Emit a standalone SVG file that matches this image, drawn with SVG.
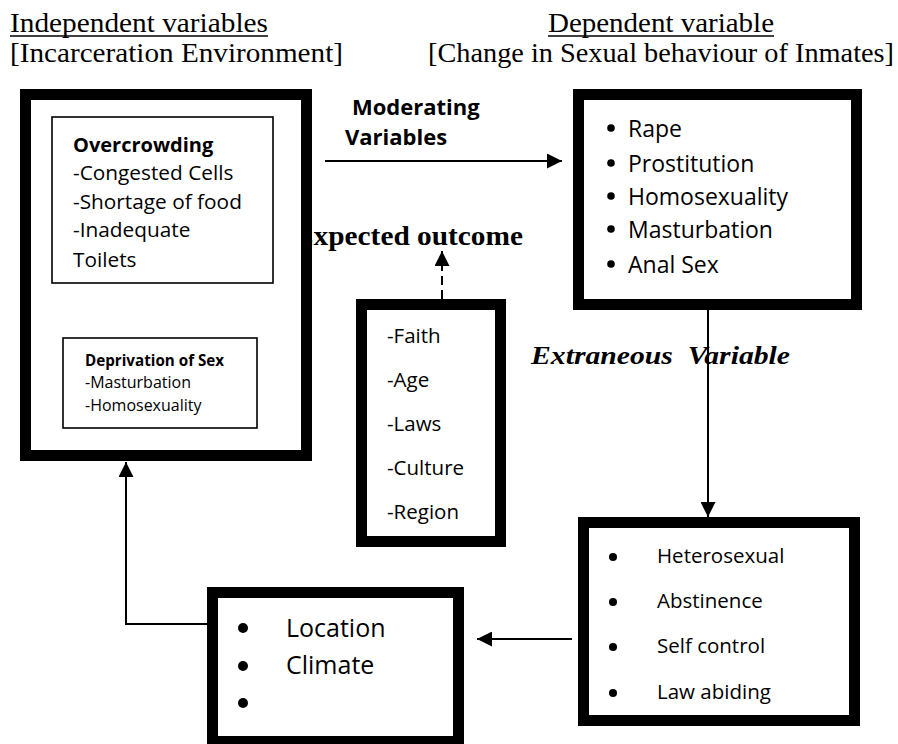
<svg xmlns="http://www.w3.org/2000/svg" width="898" height="744" viewBox="0 0 898 744">
<style>
.hdr{font-family:"Liberation Serif","Times New Roman",serif;font-size:27px;fill:#000}
.sans{font-family:"Open Sans","Liberation Sans",Arial,sans-serif;fill:#000}
.b{font-weight:bold}
.thick{fill:#fff;stroke:#000;stroke-width:11}
.thin{fill:#fff;stroke:#000;stroke-width:1.6}
.conn{fill:none;stroke:#000;stroke-width:2}
.lbl{font-family:"Liberation Serif","Times New Roman",serif;font-weight:bold;fill:#000;white-space:pre}
</style>
<defs>
<marker id="ah" viewBox="0 0 10 10" refX="10" refY="5" markerWidth="7.5" markerHeight="7.5" orient="auto" markerUnits="strokeWidth">
<path d="M0,0 L10,5 L0,10 Z" fill="#000"/>
</marker>
</defs>
<rect width="898" height="744" fill="#fff"/>
<g id="headers">
<text class="hdr" x="10" y="32" textLength="258" lengthAdjust="spacingAndGlyphs">Independent variables</text>
<line x1="10" y1="36" x2="268" y2="36" stroke="#000" stroke-width="1.3"/>
<text class="hdr" x="10" y="62" textLength="333" lengthAdjust="spacingAndGlyphs">[Incarceration Environment]</text>
<text class="hdr" x="548" y="32" textLength="226" lengthAdjust="spacingAndGlyphs">Dependent variable</text>
<line x1="548" y1="36" x2="774" y2="36" stroke="#000" stroke-width="1.3"/>
<text class="hdr" x="428" y="62" textLength="466" lengthAdjust="spacingAndGlyphs">[Change in Sexual behaviour of Inmates]</text>
</g>
<g id="labels">
<text class="sans b" x="352" y="115" font-size="22">Moderating</text>
<text class="sans b" x="345" y="145" font-size="22">Variables</text>
<text class="lbl" x="294" y="245" font-size="27" textLength="229" lengthAdjust="spacingAndGlyphs">Expected outcome</text>
<text class="lbl" x="531" y="364" font-size="26" font-style="italic" textLength="259" lengthAdjust="spacingAndGlyphs" xml:space="preserve">Extraneous  Variable</text>
</g>
<g id="connectors">
<line class="conn" x1="325" y1="161" x2="562" y2="161" marker-end="url(#ah)"/>
<line class="conn" x1="442" y1="299" x2="442" y2="251" stroke-dasharray="9 5" marker-end="url(#ah)"/>
<line class="conn" x1="708" y1="310" x2="708" y2="517" marker-end="url(#ah)"/>
<line class="conn" x1="572" y1="639" x2="477" y2="639" marker-end="url(#ah)"/>
<polyline class="conn" points="207,624 126,624 126,462" marker-end="url(#ah)"/>
</g>
<g id="node-environment">
<rect class="thick" x="25.5" y="94.5" width="281" height="361"/>
<rect class="thin" x="52" y="117" width="221" height="166"/>
<text class="sans b" x="73" y="152" font-size="20">Overcrowding</text>
<text class="sans" x="73" y="180" font-size="20.8">-Congested Cells</text>
<text class="sans" x="73" y="209" font-size="20.8">-Shortage of food</text>
<text class="sans" x="73" y="237" font-size="20.8">-Inadequate</text>
<text class="sans" x="73" y="267" font-size="20.8">Toilets</text>
<rect class="thin" x="63" y="338" width="194" height="90"/>
<text class="sans b" x="85" y="366" font-size="15.2">Deprivation of Sex</text>
<text class="sans" x="85" y="388" font-size="16">-Masturbation</text>
<text class="sans" x="85" y="411" font-size="16">-Homosexuality</text>
</g>
<g id="node-behaviour">
<rect class="thick" x="578.5" y="94.5" width="278" height="210"/>
<g fill="#000">
<circle cx="611" cy="128" r="3.8"/>
<circle cx="611" cy="163" r="3.8"/>
<circle cx="611" cy="196" r="3.8"/>
<circle cx="611" cy="229" r="3.8"/>
<circle cx="611" cy="264" r="3.8"/>
</g>
<text class="sans" x="628" y="137" font-size="23">Rape</text>
<text class="sans" x="628" y="172" font-size="23">Prostitution</text>
<text class="sans" x="628" y="205" font-size="23">Homosexuality</text>
<text class="sans" x="628" y="238" font-size="23">Masturbation</text>
<text class="sans" x="628" y="273" font-size="23">Anal Sex</text>
</g>
<g id="node-moderating">
<rect class="thick" x="361.5" y="304.5" width="139" height="237"/>
<text class="sans" x="387" y="343" font-size="20.5">-Faith</text>
<text class="sans" x="387" y="387" font-size="20.5">-Age</text>
<text class="sans" x="387" y="431" font-size="20.5">-Laws</text>
<text class="sans" x="387" y="475" font-size="20.5">-Culture</text>
<text class="sans" x="387" y="519" font-size="20.5">-Region</text>
</g>
<g id="node-outcome">
<rect class="thick" x="583.5" y="522.5" width="271" height="198"/>
<g fill="#000">
<circle cx="613" cy="557" r="4"/>
<circle cx="613" cy="602" r="4"/>
<circle cx="613" cy="647" r="4"/>
<circle cx="613" cy="693" r="4"/>
</g>
<text class="sans" x="657" y="563" font-size="20.5">Heterosexual</text>
<text class="sans" x="657" y="608" font-size="20.5">Abstinence</text>
<text class="sans" x="657" y="653" font-size="20.5">Self control</text>
<text class="sans" x="657" y="699" font-size="20.5">Law abiding</text>
</g>
<g id="node-extraneous">
<rect class="thick" x="212.5" y="592.5" width="246" height="149"/>
<g fill="#000">
<circle cx="243" cy="628" r="5"/>
<circle cx="243" cy="666" r="5"/>
<circle cx="243" cy="703" r="5"/>
</g>
<text class="sans" x="286" y="637" font-size="25">Location</text>
<text class="sans" x="286" y="674" font-size="25">Climate</text>
</g>
</svg>
